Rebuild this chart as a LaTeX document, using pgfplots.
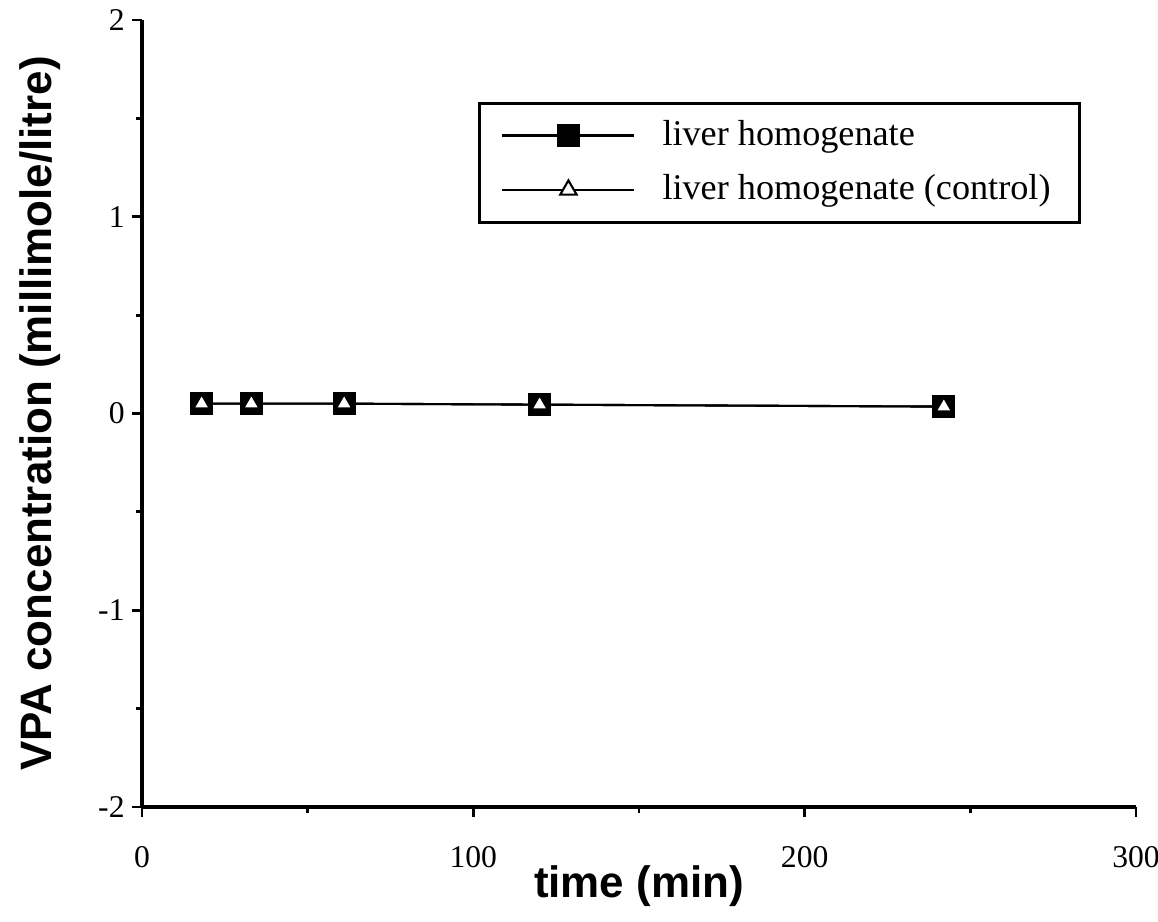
\documentclass[border=0pt]{standalone}
\usepackage{fontspec}
\setmainfont{Liberation Serif}
\newfontfamily\labelfont{Liberation Sans}
\usepackage{pgfplots}
\pgfplotsset{compat=1.18}

\begin{document}
\begin{tikzpicture}
	\path[use as bounding box] (-1.42cm,-1.15cm) rectangle (10.16cm,8.07cm);
	\begin{axis}[
		at={(0,0)}, anchor=south west,
		scale only axis,
		width=9.94cm, height=7.87cm,
		xmin=0, xmax=300, ymin=-2, ymax=2,
		axis lines*=left,
		axis line style={line width=0.9pt},
		xtick={0,100,200,300},
		ytick={-2,-1,0,1,2},
		minor xtick={50,150,250},
		minor ytick={-1.5,-0.5,0.5,1.5},
		tick align=outside,
		major tick length=0.1cm,
		minor tick length=0.06cm,
		tick style={line width=0.8pt, black},
		/pgf/number format/assume math mode=true,
		ticklabel style={font=\fontsize{9}{10}\selectfont},
		xticklabel style={yshift=-0.17cm},
		yticklabel style={xshift=0.05cm},
		xlabel={time (min)},
		ylabel={VPA concentration (millimole/litre)},
		xlabel style={font=\labelfont\bfseries\fontsize{12.5}{14}\selectfont, at={(axis description cs:0.5,-0.1)}, anchor=center},
		ylabel style={font=\labelfont\bfseries\fontsize{12.5}{14}\selectfont, at={(axis description cs:-0.1026,0.5)}, anchor=center},
		legend style={at={(axis description cs:0.338,0.896)}, anchor=north west,
			draw=black, line width=0.8pt, fill=white,
			font=\fontsize{10.3}{12}\selectfont,
			inner xsep=0.22cm, inner ysep=0.1cm,
			row sep=0.1cm, column sep=0.2cm,
			cells={anchor=west}},
		legend cell align=left,
		legend image code/.code={
			\draw[mark repeat=2,mark phase=2,line width=0.6pt]
			plot coordinates {(0cm,0cm) (0.66cm,0cm) (1.32cm,0cm)};
		},
	]
		\addplot[black, line width=0.6pt, mark=square*, mark size=3pt,
			mark options={fill=black, line width=0.6pt}]
		coordinates {(18,0.05) (33,0.05) (61,0.05) (120,0.045) (242,0.035)};
		\addlegendentry{liver homogenate}
		\addplot[black, line width=0.6pt, mark=triangle*, mark size=2.7pt,
			mark options={fill=white, line width=0.6pt}]
		coordinates {(18,0.05) (33,0.05) (61,0.05) (120,0.045) (242,0.035)};
		\addlegendentry{liver homogenate (control)}
	\end{axis}
\end{tikzpicture}
\end{document}
